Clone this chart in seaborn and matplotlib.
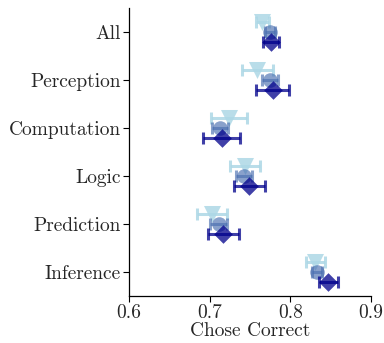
import matplotlib
matplotlib.use("Agg")
import matplotlib.pyplot as plt
import seaborn as sns
import numpy as np
import pandas as pd

sns.set_style("white")
plt.rcParams["font.family"] = "serif"
plt.rcParams["font.serif"] = ["cmr10", "DejaVu Serif"]
plt.rcParams["axes.formatter.use_mathtext"] = True
plt.rcParams["mathtext.fontset"] = "cm"

categories = ["All", "Perception", "Computation", "Logic", "Prediction", "Inference"]
models = ["A", "B", "C"]

vals_a = [0.765, 0.759, 0.724, 0.744, 0.703, 0.831]
errs_a = [0.008, 0.019, 0.022, 0.019, 0.019, 0.012]
vals_b = [0.775, 0.775, 0.713, 0.743, 0.711, 0.833]
errs_b = [0.006, 0.010, 0.010, 0.010, 0.010, 0.006]
vals_c = [0.776, 0.778, 0.715, 0.749, 0.717, 0.847]
errs_c = [0.010, 0.020, 0.023, 0.019, 0.019, 0.012]

styles = {
    "A": dict(color="#add8e6", alpha=0.85, marker="v", size=150, offset=-0.2),
    "B": dict(color="#4a6fb0", alpha=0.65, marker="o", size=110, offset=0.0),
    "C": dict(color="#00008b", alpha=0.75, marker="D", size=90, offset=0.2),
}

frames = []
for m, v, e in zip(models, [vals_a, vals_b, vals_c], [errs_a, errs_b, errs_c]):
    frames.append(pd.DataFrame({"category": categories, "model": m,
                                "value": v, "err": e,
                                "pos": np.arange(len(categories))}))
df = pd.concat(frames, ignore_index=True)

fig, ax = plt.subplots(figsize=(3.84, 3.43), dpi=100)
fig.subplots_adjust(left=129 / 384, right=371 / 384, top=1 - 8 / 343, bottom=1 - 296 / 343)

for i, m in enumerate(models):
    st = styles[m]
    sub = df[df["model"] == m].copy()
    sub["y"] = sub["pos"] + st["offset"]
    ax.errorbar(sub["value"], sub["y"], xerr=sub["err"], fmt="none",
                ecolor=st["color"], alpha=st["alpha"], elinewidth=2.2,
                capsize=4, capthick=2.2, zorder=2 + 2 * i)
    sns.scatterplot(data=sub, x="value", y="y", marker=st["marker"],
                    color=st["color"], alpha=st["alpha"], s=st["size"],
                    linewidth=0, ax=ax, zorder=3 + 2 * i, legend=False)

ax.set_xlim(0.6, 0.9)
ax.set_xticks([0.6, 0.7, 0.8, 0.9])
ax.set_xticklabels(["0.6", "0.7", "0.8", "0.9"])
ax.set_ylim(len(categories) - 0.5, -0.5)
ax.set_yticks(np.arange(len(categories)))
ax.set_yticklabels(categories)
ax.set_xlabel("Chose Correct", fontsize=14, labelpad=0)
ax.set_ylabel("")
ax.tick_params(axis="both", labelsize=14, length=4, width=0.8, color="black",
               bottom=True, left=True, pad=2)
sns.despine(ax=ax)
for sp in ["left", "bottom"]:
    ax.spines[sp].set_color("black")
    ax.spines[sp].set_linewidth(0.9)

fig.savefig("out.png", dpi=100)
